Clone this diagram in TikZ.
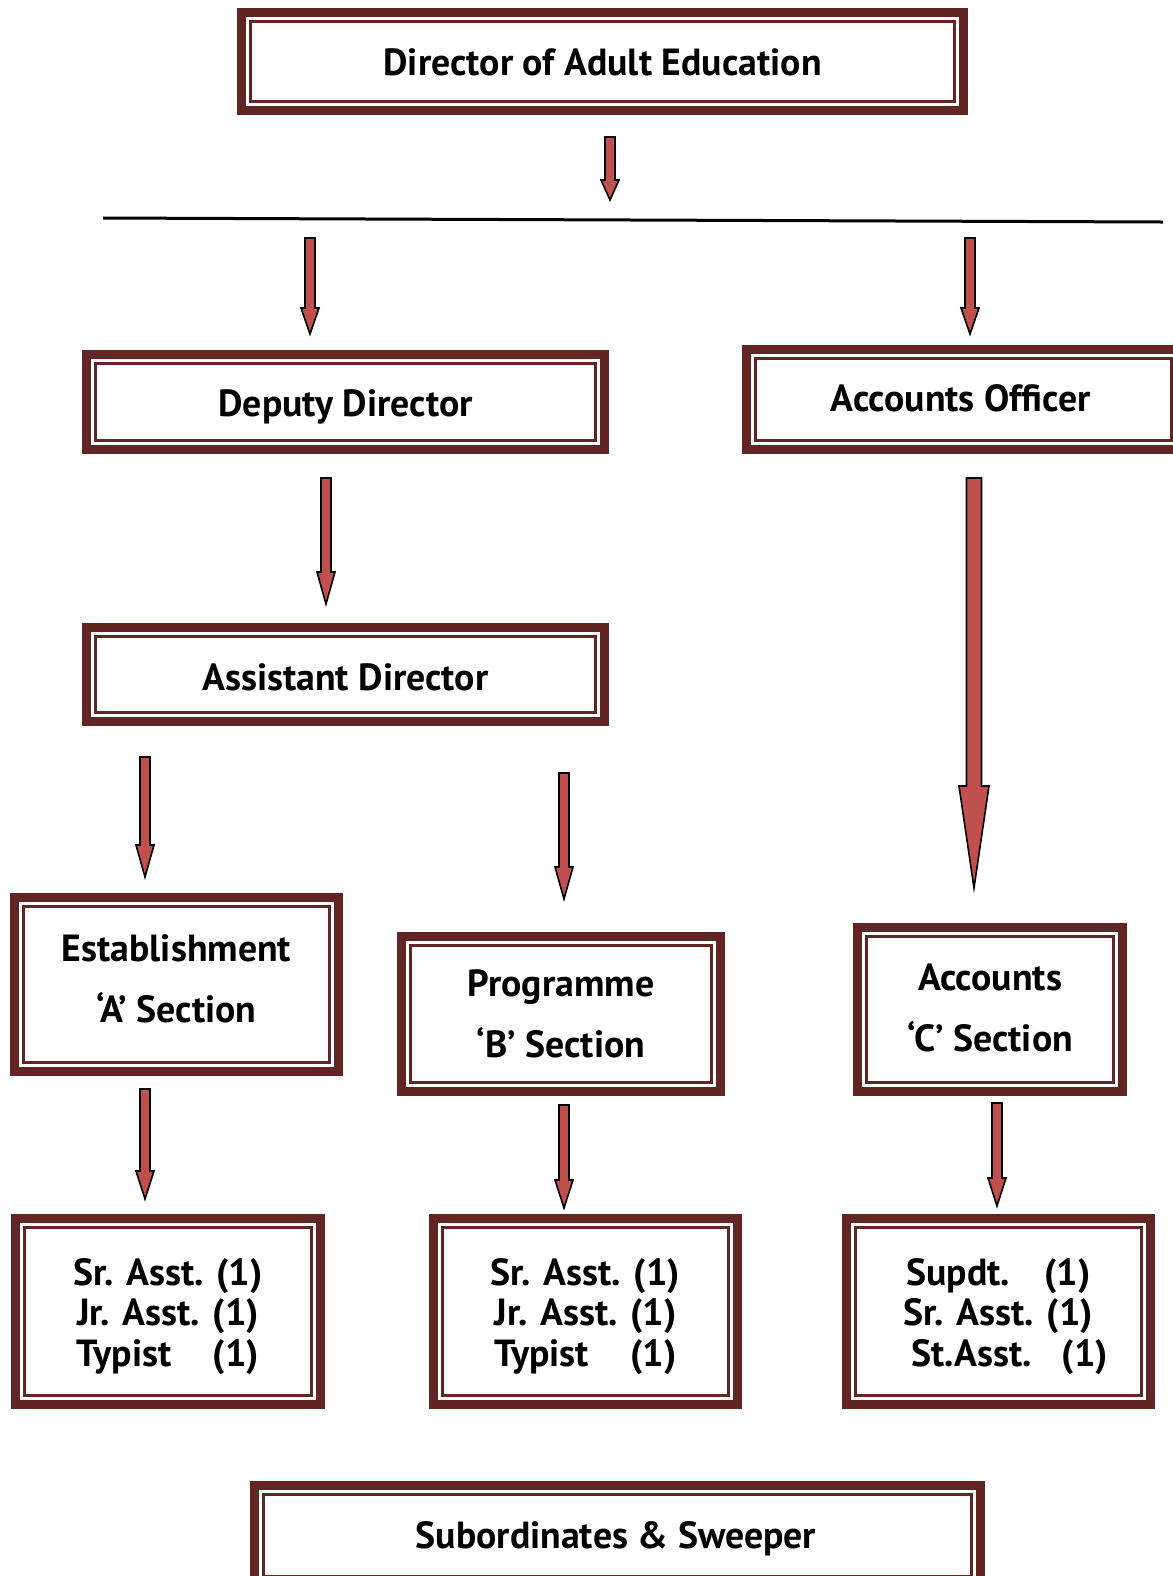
\documentclass[tikz,border=0pt]{standalone}
\usepackage{fontspec}
\setmainfont{PT Sans}
\definecolor{brd}{HTML}{632523}
\definecolor{arf}{HTML}{C0504D}
\tikzset{
  outerb/.style={draw=brd, line width=4.5pt},
  innerb/.style={draw=brd, line width=1.35pt},
  lbl/.style={font=\fontsize{18.9}{20.25}\selectfont\bfseries, align=center, inner sep=0pt},
  lbltwo/.style={font=\fontsize{18.9}{30.5}\selectfont\bfseries, align=center, inner sep=0pt},
  arrowshape/.style={fill=arf, draw=black, line width=0.8pt, line join=miter},
  hline/.style={draw=black, line width=1.5pt}
}
% name, x1, y1, x2, y2, style, text
\newcommand\orgbox[7]{%
  \draw[outerb] (#2+4.5,#3+4.5) rectangle (#4-4.5,#5-4.5);
  \draw[innerb] (#2+13.6,#3+13.6) rectangle (#4-13.6,#5-13.6);
  \node[#6] (#1) at ({(#2+#4)/2},{(#3+#5)/2}) {#7};
}
% name, x, y1, y2, shaft half, head half, head length
\newcommand\blockarrow[7]{%
  \coordinate (#1s) at (#2,#3);
  \coordinate (#1e) at (#2,#4);
  \draw[arrowshape] (#2-#5,#3) -- (#2-#5,#4-#7) -- (#2-#6,#4-#7) -- (#1e)
     -- (#2+#6,#4-#7) -- (#2+#5,#4-#7) -- (#2+#5,#3) -- cycle;
}
\begin{document}
\begin{tikzpicture}[x=0.5pt,y=-0.5pt]
\useasboundingbox (0,0) rectangle (1173,1576);
\orgbox{dir}{237}{8}{968}{115}{lbl,yshift=-0.6pt}{Director of Adult Education}
\orgbox{dep}{82}{350}{609}{454}{lbl,yshift=-2.4pt}{Deputy Director}
\orgbox{acc}{742}{345}{1185}{454}{lbl}{}
\node[lbl] (acct) at (961,398) {Accounts Officer};
\orgbox{asst}{82}{623}{609}{726}{lbl,yshift=-1.4pt}{Assistant Director}
\orgbox{estA}{10}{893}{343}{1076}{lbltwo,yshift=3pt}{Establishment\\‘A’ Section}
\orgbox{progB}{397}{932}{725}{1096}{lbltwo}{Programme\\‘B’ Section}
\orgbox{accC}{853}{923}{1127}{1096}{lbltwo,yshift=1pt}{Accounts\\‘C’ Section}
\orgbox{stA}{11}{1214}{325}{1409}{lbl,yshift=-2.4pt}{Sr. Asst. (1)\\Jr. Asst. (1)\\Typist\hspace{1.1em}(1)}
\orgbox{stB}{429}{1214}{742}{1409}{lbl,yshift=-2.4pt}{Sr. Asst. (1)\\Jr. Asst. (1)\\Typist\hspace{1.1em}(1)}
\orgbox{stC}{842}{1214}{1155}{1409}{lbl,yshift=-2.4pt}{Supdt.\hspace{0.9em}(1)\\Sr. Asst. (1)\\\hspace*{0.6em}St.Asst.\hspace{0.8em}(1)}
\orgbox{sub}{250}{1481}{985}{1590}{lbl}{}
\node[lbl] (subt) at (616,1539) {Subordinates \& Sweeper};
% horizontal bar
\coordinate (hlL) at (103,218);
\coordinate (hlR) at (1163,222);
\draw[hline] (hlL) -- (hlR);
% arrows
\blockarrow{a1}{610}{137}{200}{5}{9}{20}
\blockarrow{a2}{310}{238}{334}{5}{9}{26}
\blockarrow{a3}{970}{238}{334}{5}{9}{26}
\blockarrow{a4}{326}{478}{604}{5}{9}{32}
\blockarrow{a5}{974}{478}{888}{7.5}{15}{102}
\blockarrow{a6}{145}{757}{877}{5}{9}{32}
\blockarrow{a7}{564}{773}{899}{5}{9}{32}
\blockarrow{a8}{145}{1089}{1199}{5}{9}{28}
\blockarrow{a9}{564}{1105}{1208}{5}{9}{28}
\blockarrow{a10}{997}{1103}{1206}{5}{9}{28}
\end{tikzpicture}
\end{document}
